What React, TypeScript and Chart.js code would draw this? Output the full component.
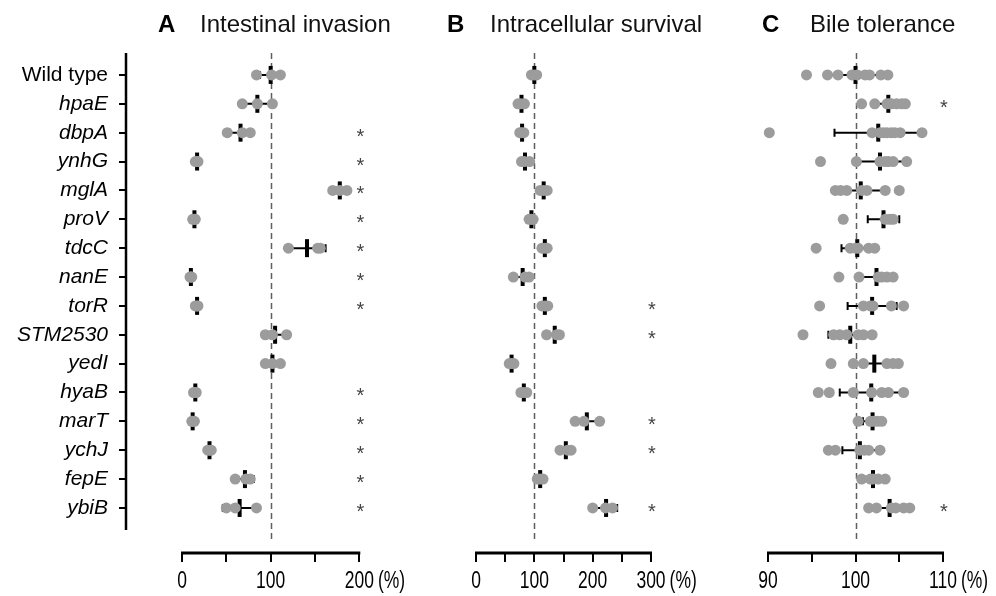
import React, { useEffect, useRef } from 'react';
import { Chart, registerables } from 'chart.js';

Chart.register(...registerables);

// ---------- data ----------
const categories = [
  'Wild type', 'hpaE', 'dbpA', 'ynhG', 'mglA', 'proV', 'tdcC', 'nanE',
  'torR', 'STM2530', 'yedI', 'hyaB', 'marT', 'ychJ', 'fepE', 'ybiB',
];

// A: Intestinal invasion (%)
const invasionPoints = [
  [84, 101, 111], [68, 85, 102], [51, 68, 77], [15, 17, 18],
  [170, 178, 186], [12, 14, 15], [120, 153, 156], [9, 10, 11],
  [15, 17, 18], [94, 102, 118], [94, 102, 111], [13, 15, 16],
  [11, 12, 14], [29, 31, 33], [60, 72, 77], [50, 60, 84],
];
const invasionMeans = [100, 85, 66, 17, 178, 14, 141, 10, 17, 105, 102, 15, 12, 31, 71, 65];
const invasionErrors = [12, 17, 12, 2, 7, 2, 21, 2, 2, 13, 9, 2, 2, 3, 10, 19];
const invasionSignificant = [0, 0, 1, 1, 1, 1, 1, 1, 1, 0, 0, 1, 1, 1, 1, 1];
const invasionTicks = [0, 50, 100, 150, 200];
const invasionTickLabels = ['0', '', '100', '', '200'];

// B: Intracellular survival (%)
const survivalPoints = [
  [95, 100, 104], [72, 77, 83], [75, 78, 82], [78, 83, 92],
  [110, 116, 122], [91, 95, 98], [113, 118, 122], [64, 84, 91],
  [113, 118, 123], [121, 138, 143], [57, 61, 65], [77, 82, 87],
  [170, 185, 212], [144, 157, 163], [105, 110, 115], [200, 222, 234],
];
const survivalMeans = [100, 78, 79, 84, 116, 95, 118, 80, 118, 135, 61, 82, 190, 154, 110, 223];
const survivalErrors = [5, 6, 4, 7, 6, 4, 5, 12, 5, 10, 4, 5, 23, 10, 5, 19];
const survivalSignificant = [0, 0, 0, 0, 0, 0, 0, 0, 1, 1, 0, 0, 1, 1, 0, 1];
const survivalTicks = [0, 50, 100, 150, 200, 250, 300];
const survivalTickLabels = ['0', '', '100', '', '200', '', '300'];

// C: Bile tolerance (%)
const bilePoints = [
  [94.4, 96.8, 98.0, 99.6, 100.2, 101.1, 101.6, 102.9, 103.7],
  [100.7, 102.2, 103.6, 103.9, 104.1, 104.7, 105.3, 105.7],
  [90.15, 101.9, 102.8, 103.2, 103.6, 104.1, 104.5, 105.1, 107.6],
  [96.0, 100.1, 102.8, 103.4, 103.75, 104.3, 105.85],
  [97.7, 98.3, 99.0, 100.7, 101.3, 103.4, 105.0],
  [98.6, 103.4, 103.9, 104.3],
  [95.5, 99.4, 100.0, 100.3, 101.5, 102.2],
  [98.1, 100.4, 102.6, 103.0, 103.6, 104.3],
  [95.9, 100.9, 101.7, 102.0, 104.1, 105.5],
  [94.0, 97.5, 98.2, 99.0, 100.3, 100.9, 101.9],
  [97.2, 99.75, 100.9, 103.6, 104.3, 104.9],
  [95.75, 97.0, 99.75, 101.85, 103.0, 103.75, 105.5],
  [100.3, 101.7, 102.0, 102.5, 103.0],
  [96.9, 97.7, 100.5, 101.0, 101.5, 102.8],
  [100.7, 101.7, 102.0, 102.6, 103.4],
  [101.5, 102.4, 104.1, 104.6, 105.5, 106.2],
];
const bileMeans = [100, 103.75, 102.6, 102.8, 100.6, 103.2, 100.2, 102.4, 101.9, 99.4, 102.15, 101.8, 101.95, 100.5, 102, 103.9];
const bileErrors = [3.0, 1.6, 5.0, 2.8, 2.8, 1.8, 1.8, 2.0, 2.8, 2.5, 2.4, 3.6, 1.1, 2.0, 1.0, 1.8];
const bileSignificant = [0, 1, 0, 0, 0, 0, 0, 0, 0, 0, 0, 0, 0, 0, 0, 1];
const bileTicks = [90, 95, 100, 105, 110];
const bileTickLabels = ['90', '', '100', '', '110'];

const referenceValue = 100;

// ---------- layout / style ----------
const W = 996;
const H = 596;
const FONT = "'Liberation Sans', Arial, sans-serif";
const Y_MIN = -0.76;
const Y_AXIS_END = 15.76;
const Y_MAX = 16.56;
const DASH_END = 16.1;
const TICK_LEN = 9;
const TICK_SIZE = 23;
const TICK_SQUEEZE = 0.76;
const TICK_LABEL_Y = 582;

type Panel = {
  points: number[][];
  means: number[];
  errors: number[];
  significant: number[];
  ticks: number[];
  tickLabels: string[];
  min: number;
  max: number;
  padLeft: number;
  padRight: number;
  showY: boolean;
};

const panels: Panel[] = [
  {
    points: invasionPoints, means: invasionMeans, errors: invasionErrors,
    significant: invasionSignificant, ticks: invasionTicks, tickLabels: invasionTickLabels,
    min: -63.2, max: 200, padLeft: 0, padRight: W - 359.3, showY: true,
  },
  {
    points: survivalPoints, means: survivalMeans, errors: survivalErrors,
    significant: survivalSignificant, ticks: survivalTicks, tickLabels: survivalTickLabels,
    min: 0, max: 300, padLeft: 476, padRight: W - 651, showY: false,
  },
  {
    points: bilePoints, means: bileMeans, errors: bileErrors,
    significant: bileSignificant, ticks: bileTicks, tickLabels: bileTickLabels,
    min: 90, max: 110, padLeft: 768, padRight: W - 943, showY: false,
  },
];

function decoPlugin(p: Panel) {
  return {
    id: 'deco',
    beforeDatasetsDraw(chart: any) {
      const { ctx } = chart;
      const x = chart.scales.x;
      const y = chart.scales.y;
      ctx.save();
      // dashed reference line
      ctx.strokeStyle = '#5e5e5e';
      ctx.lineWidth = 1.5;
      ctx.setLineDash([6, 4]);
      const rx = Math.round(x.getPixelForValue(referenceValue)) + 0.5;
      ctx.beginPath();
      ctx.moveTo(rx, y.getPixelForValue(Y_MIN));
      ctx.lineTo(rx, y.getPixelForValue(DASH_END));
      ctx.stroke();
      ctx.setLineDash([]);
      // error bars
      ctx.strokeStyle = '#000';
      ctx.lineWidth = 2;
      p.means.forEach((m, i) => {
        const e = p.errors[i];
        const x1 = x.getPixelForValue(m - e);
        const x2 = x.getPixelForValue(m + e);
        const yy = y.getPixelForValue(i);
        ctx.beginPath();
        ctx.moveTo(x1, yy);
        ctx.lineTo(x2, yy);
        ctx.moveTo(x1, yy - 4);
        ctx.lineTo(x1, yy + 4);
        ctx.moveTo(x2, yy - 4);
        ctx.lineTo(x2, yy + 4);
        ctx.stroke();
      });
      ctx.restore();
    },
    afterDraw(chart: any) {
      const { ctx, chartArea } = chart;
      const x = chart.scales.x;
      const y = chart.scales.y;
      ctx.save();
      // x axis line
      ctx.strokeStyle = '#000';
      ctx.lineWidth = 3;
      const xa = x.getPixelForValue(p.ticks[0]) - 1;
      const xb = x.getPixelForValue(p.ticks[p.ticks.length - 1]) + 1;
      ctx.beginPath();
      ctx.moveTo(xa, chartArea.bottom);
      ctx.lineTo(xb, chartArea.bottom);
      ctx.stroke();
      // y axis line
      if (p.showY) {
        ctx.lineWidth = 2.5;
        ctx.beginPath();
        ctx.moveTo(chartArea.left, y.getPixelForValue(Y_MIN));
        ctx.lineTo(chartArea.left, y.getPixelForValue(Y_AXIS_END));
        ctx.stroke();
      }
      // x tick labels (narrow face) + unit
      ctx.font = `${TICK_SIZE}px ${FONT}`;
      ctx.fillStyle = '#000';
      ctx.textBaseline = 'middle';
      ctx.textAlign = 'center';
      p.ticks.forEach((t, i) => {
        const lab = p.tickLabels[i];
        if (!lab) return;
        ctx.save();
        ctx.translate(x.getPixelForValue(t), TICK_LABEL_Y);
        ctx.scale(TICK_SQUEEZE, 1);
        ctx.fillText(lab, 0, 0);
        ctx.restore();
      });
      const last = p.tickLabels[p.tickLabels.length - 1];
      const lw = ctx.measureText(last).width * TICK_SQUEEZE;
      ctx.save();
      ctx.translate(x.getPixelForValue(p.ticks[p.ticks.length - 1]) + lw / 2 + 4, TICK_LABEL_Y);
      ctx.scale(TICK_SQUEEZE, 1);
      ctx.textAlign = 'left';
      ctx.fillText('(%)', 0, 0);
      ctx.restore();
      // asterisks
      ctx.font = `20px ${FONT}`;
      ctx.fillStyle = '#444';
      ctx.textAlign = 'center';
      ctx.textBaseline = 'alphabetic';
      const ax = x.getPixelForValue(p.max) + 1;
      p.significant.forEach((s, i) => {
        if (s) ctx.fillText('*', ax, y.getPixelForValue(i) + 10);
      });
      ctx.restore();
    },
  };
}

function buildChart(canvas: HTMLCanvasElement, p: Panel) {
  const scatter = p.points.flatMap((vals, i) => vals.map((v) => ({ x: v, y: i })));
  const meanPts = p.means.map((m, i) => ({ x: m, y: i }));
  return new Chart(canvas, {
    type: 'scatter',
    data: {
      datasets: [
        {
          data: scatter,
          backgroundColor: '#9c9c9c',
          borderWidth: 0,
          pointRadius: 5.5,
          clip: false,
          order: 0,
        } as any,
        {
          data: meanPts,
          pointStyle: 'line',
          rotation: 90,
          pointRadius: 9,
          borderWidth: 4,
          borderColor: '#000',
          backgroundColor: '#000',
          clip: false,
          order: 1,
        } as any,
      ],
    },
    options: {
      animation: false,
      responsive: false,
      maintainAspectRatio: false,
      events: [],
      layout: { padding: { top: 53, bottom: 0, left: p.padLeft, right: p.padRight } },
      plugins: { legend: { display: false }, tooltip: { enabled: false } },
      scales: {
        x: {
          type: 'linear',
          min: p.min,
          max: p.max,
          afterBuildTicks: (s: any) => { s.ticks = p.ticks.map((v) => ({ value: v })); },
          afterFit: (s: any) => { s.height = H - 553; },
          ticks: { display: false, autoSkip: false, maxRotation: 0 },
          grid: { drawOnChartArea: false, drawTicks: true, tickLength: TICK_LEN, color: '#000', lineWidth: 2 },
          border: { display: false },
        },
        y: {
          type: 'linear',
          reverse: true,
          min: Y_MIN,
          max: Y_MAX,
          display: p.showY,
          afterBuildTicks: (s: any) => { s.ticks = categories.map((_c, i) => ({ value: i })); },
          afterFit: (s: any) => { if (p.showY) s.width = 126; },
          ticks: {
            callback: (v: any) => categories[v],
            color: '#000',
            padding: 11,
            autoSkip: false,
            font: (c: any) => ({ family: FONT, size: 21, style: c.index === 0 ? 'normal' : 'italic' }),
          } as any,
          grid: { drawOnChartArea: false, drawTicks: true, tickLength: 7, color: '#000', lineWidth: 2 },
          border: { display: false },
        },
      },
    } as any,
    plugins: [decoPlugin(p)],
  });
}

const titles = [
  { letter: 'A', text: 'Intestinal invasion', lx: 158, tx: 200 },
  { letter: 'B', text: 'Intracellular survival', lx: 447, tx: 490 },
  { letter: 'C', text: 'Bile tolerance', lx: 762, tx: 810 },
];

export default function App() {
  const refs = [useRef<HTMLCanvasElement>(null), useRef<HTMLCanvasElement>(null), useRef<HTMLCanvasElement>(null)];
  useEffect(() => {
    document.body.style.margin = '0';
    const charts = panels.map((p, i) => buildChart(refs[i].current as HTMLCanvasElement, p));
    return () => charts.forEach((c) => c.destroy());
  }, []);
  return (
    <div style={{ position: 'fixed', left: 0, top: 0, width: W, height: H, background: '#fff', overflow: 'hidden' }}>
      {refs.map((r, i) => (
        <canvas key={i} ref={r} width={W} height={H} style={{ position: 'absolute', left: 0, top: 0 }} />
      ))}
      {titles.map((t) => (
        <React.Fragment key={t.letter}>
          <div style={{ position: 'absolute', left: t.lx, top: 12, font: `bold 24px ${FONT}`, lineHeight: '24px', color: '#000', whiteSpace: 'nowrap' }}>{t.letter}</div>
          <div style={{ position: 'absolute', left: t.tx, top: 12, font: `24px ${FONT}`, lineHeight: '24px', color: '#111', whiteSpace: 'nowrap' }}>{t.text}</div>
        </React.Fragment>
      ))}
    </div>
  );
}
